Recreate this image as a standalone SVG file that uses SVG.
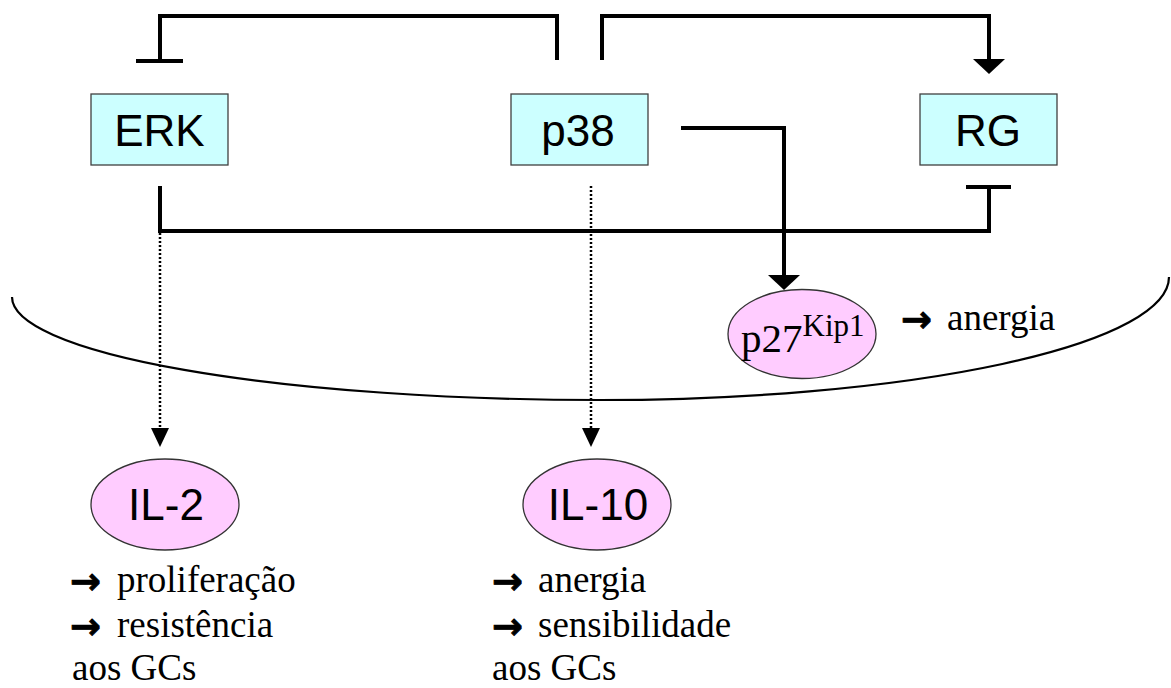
<svg xmlns="http://www.w3.org/2000/svg" width="1171" height="688" viewBox="0 0 1171 688">
<style>
.box{fill:#CCFFFF;stroke:#404040;stroke-width:1.3}
.ell{fill:#FFCCFF;stroke:#333333;stroke-width:1.3}
.lbl{font-family:"Liberation Sans",Arial,sans-serif;font-size:44px;fill:#000;text-anchor:middle}
.ser{font-family:"Liberation Serif","Times New Roman",serif;font-size:37px;fill:#000}
.arw{font-family:"DejaVu Sans",sans-serif;font-weight:bold;font-size:37px;fill:#000;stroke:#000;stroke-width:0.8}
.conn{fill:none;stroke:#000;stroke-width:4;stroke-linejoin:miter;stroke-linecap:butt}
.dot{fill:none;stroke:#000;stroke-width:2.5;stroke-dasharray:2 2}
.curve{fill:none;stroke:#000;stroke-width:2.2}
</style>
<defs>
<marker id="solid" markerUnits="userSpaceOnUse" markerWidth="15" markerHeight="32" refX="0" refY="16" orient="auto" viewBox="0 0 15 32">
<path d="M0,0 L15,16 L0,32 Z" fill="#000"/>
</marker>
<marker id="dart" markerUnits="userSpaceOnUse" markerWidth="19" markerHeight="18" refX="0" refY="9" orient="auto" viewBox="0 0 19 18">
<path d="M0,0 L19,9 L0,18 Z" fill="#000"/>
</marker>
</defs>

<path class="curve" d="M12 297 A588 103 0 0 0 600 400 A569 123 0 0 0 1169 277"/>

<g id="connectors">
<path class="conn" d="M557 60 V16 H160 V61"/>
<path class="conn" d="M136 61 H183"/>
<path class="conn" d="M602 60 V16 H989 V59" marker-end="url(#solid)"/>
<path class="conn" d="M681 128 H784 V275" marker-end="url(#solid)"/>
<path class="conn" d="M160 186 V231 H989 V187"/>
<path class="conn" d="M966 187 H1011"/>
<path class="dot" d="M160 233 V428" marker-end="url(#dart)"/>
<path class="dot" d="M591 186 V428" marker-end="url(#dart)"/>
</g>

<g id="ERK">
<rect class="box" x="91" y="94" width="137" height="71"/>
<text class="lbl" x="159.5" y="146">ERK</text>
</g>
<g id="p38">
<rect class="box" x="511" y="94" width="137" height="71"/>
<text class="lbl" x="578" y="146">p38</text>
</g>
<g id="RG">
<rect class="box" x="920" y="94" width="137" height="71"/>
<text class="lbl" x="988" y="146">RG</text>
</g>

<g id="p27">
<ellipse class="ell" cx="802" cy="334" rx="74" ry="44.5"/>
<text font-family="Liberation Serif,'Times New Roman',serif" font-size="41" x="741" y="352">p27<tspan font-size="31" dy="-16">Kip1</tspan></text>
</g>
<g id="p27-note">
<text class="arw" x="901" y="332">→</text>
<text class="ser" x="947" y="330">anergia</text>
</g>

<g id="IL-2">
<ellipse class="ell" cx="165" cy="504.5" rx="74" ry="45.5"/>
<text class="lbl" x="166" y="520">IL-2</text>
</g>
<g id="IL-2-note">
<text class="arw" x="70" y="594">→</text>
<text class="ser" x="117" y="592">proliferação</text>
<text class="arw" x="70" y="639">→</text>
<text class="ser" x="117" y="637">resistência</text>
<text class="ser" x="72" y="680">aos GCs</text>
</g>

<g id="IL-10">
<ellipse class="ell" cx="597" cy="504.5" rx="74" ry="45.5"/>
<text class="lbl" x="598" y="520">IL-10</text>
</g>
<g id="IL-10-note">
<text class="arw" x="492" y="594">→</text>
<text class="ser" x="538" y="592">anergia</text>
<text class="arw" x="492" y="639">→</text>
<text class="ser" x="538" y="637">sensibilidade</text>
<text class="ser" x="492" y="680">aos GCs</text>
</g>
</svg>
